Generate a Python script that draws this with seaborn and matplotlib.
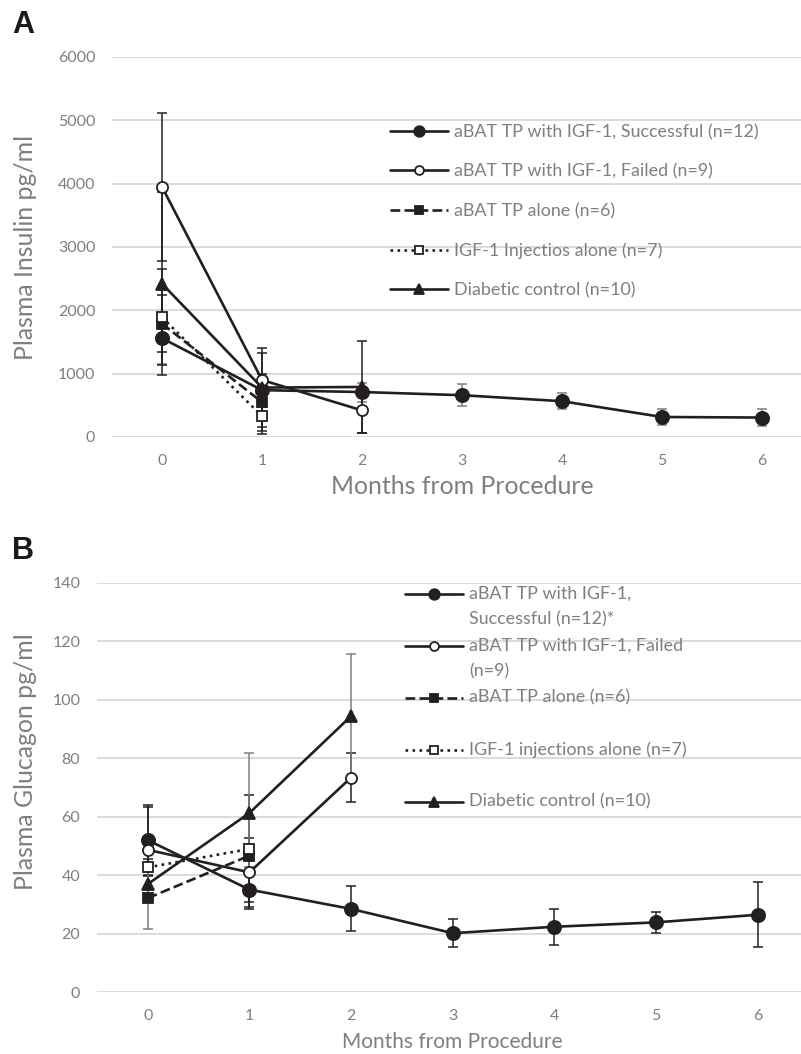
import numpy as np
import pandas as pd
import seaborn as sns
import matplotlib.pyplot as plt

months = [0, 1, 2, 3, 4, 5, 6]

# A - plasma insulin pg/ml (mean, error)
ins_succ = [1560, 740, 710, 660, 565, 316, 307]
ins_succ_err = [400, 90, 150, 170, 125, 120, 135]
ins_fail = [3950, 900, 420]
ins_fail_err = [1170, 420, 360]
ins_bat = [1790, 550]
ins_bat_err = [445, 450]
ins_igf = [1890, 330]
ins_igf_err = [760, 280]
ins_diab = [2420, 780, 790]
ins_diab_err = [1445, 620, 730]

# B - plasma glucagon pg/ml
glu_succ = [52, 35.1, 28.5, 20.2, 22.4, 23.9, 26.5]
glu_succ_err = [12, 6.6, 7.7, 4.8, 6.2, 3.6, 11.1]
glu_fail = [48.7, 41, 73.4]
glu_fail_err = [14.6, 11.8, 8.4]
glu_bat = [32.2, 46.7]
glu_bat_err = [10.6, 4]
glu_igf = [42.7, 49]
glu_igf_err = [3, 18.3]
glu_diab = [37, 61.3, 94.4]
glu_diab_err = [4, 20.5, 21.3]

labels_a = ['aBAT TP with IGF-1, Successful (n=12)',
            'aBAT TP with IGF-1, Failed (n=9)',
            'aBAT TP alone (n=6)',
            'IGF-1 Injectios alone (n=7)',
            'Diabetic control (n=10)']
labels_b = ['aBAT TP with IGF-1,\nSuccessful (n=12)*',
            'aBAT TP with IGF-1, Failed\n(n=9)',
            'aBAT TP alone (n=6)\n',
            'IGF-1 injections alone (n=7)\n',
            'Diabetic control (n=10)\n']

ink = '#231f20'
gray = '#7f7f7f'
grid_c = '#d9d9d9'

# marker, face, linestyle, size
styles = [('o', ink, '-', 9.5),
          ('o', 'white', '-', 8),
          ('s', ink, '--', 7.5),
          ('s', 'white', ':', 7.5),
          ('^', ink, '-', 8.5)]

sns.set_theme(style='white')
plt.rcParams['font.family'] = ['Lato', 'DejaVu Sans']

fig = plt.figure(figsize=(8.01, 10.54), dpi=100)
W, H = 801, 1054


def fx(px):
    return px / W


def fy(py):
    return 1 - py / H


def panel(rect, series, errcols, labels, ymax, ystep, fs_xlab, fs_ylab, ylab):
    ax = fig.add_axes(rect)
    for (y, e), (m, mfc, ls, ms), lab, ec in zip(series, styles, labels, errcols):
        x = months[:len(y)]
        ax.errorbar(x, y, yerr=e, fmt='none', ecolor=ec, elinewidth=1.1,
                    capsize=3.8, capthick=1.1, zorder=2)
        sns.lineplot(x=x, y=y, ax=ax, color=ink, marker=m, markersize=ms,
                     markerfacecolor=mfc, markeredgecolor=ink, markeredgewidth=1.3,
                     linestyle=ls, linewidth=1.9, label=lab, zorder=3, legend=False)
    ax.set_xlim(-0.5, 6.5)
    ax.set_ylim(0, ymax)
    ax.set_xticks(months)
    ax.set_yticks(np.arange(0, ymax + 1, ystep))
    ax.yaxis.grid(True, color=grid_c, lw=1.3)
    ax.xaxis.grid(False)
    ax.set_axisbelow(True)
    for s in ax.spines.values():
        s.set_visible(False)
    ax.tick_params(length=0, labelcolor=gray, labelsize=11.5)
    ax.tick_params(axis='x', pad=12)
    ax.tick_params(axis='y', pad=12)
    ax.set_xlabel('Months from Procedure', color=gray, fontsize=fs_xlab)
    ax.set_ylabel(ylab, color=gray, fontsize=fs_ylab)
    return ax


# panel A
axA = panel([fx(112), fy(437), fx(700), (437 - 57) / H],
            [(ins_succ, ins_succ_err), (ins_fail, ins_fail_err), (ins_bat, ins_bat_err),
             (ins_igf, ins_igf_err), (ins_diab, ins_diab_err)],
            [gray, ink, ink, ink, ink], labels_a, 6000, 1000, 17.9, 17.9,
            'Plasma Insulin pg/ml')
axA.xaxis.set_label_coords(0.5, -50 / 380)
axA.xaxis.label.set_va('center')
axA.yaxis.set_label_coords((26 - 112) / 700, 0.5)
axA.yaxis.label.set_va('center')

# panel B
hB = 992.3 - 582.7
wB = 711.4
axB = panel([fx(97), fy(992.3), fx(wB), hB / H],
            [(glu_succ, glu_succ_err), (glu_fail, glu_fail_err), (glu_bat, glu_bat_err),
             (glu_igf, glu_igf_err), (glu_diab, glu_diab_err)],
            [ink, ink, gray, ink, gray], labels_b, 140, 20, 15, 17.9,
            'Plasma Glucagon pg/ml')
axB.xaxis.set_label_coords(0.5, -(1042 - 992.3) / hB)
axB.xaxis.label.set_va('center')
axB.yaxis.set_label_coords((26 - 97) / wB, (992.3 - 762) / hB)
axB.yaxis.label.set_va('center')

fs_leg = 12.9
fs_px = fs_leg * 100 / 72
legA = axA.legend(loc='upper left', bbox_to_anchor=(fx(390), fy(124)),
                  bbox_transform=fig.transFigure, frameon=False, fontsize=fs_leg,
                  handlelength=58 / fs_px, handletextpad=6 / fs_px, labelspacing=1.3,
                  borderpad=0, borderaxespad=0, labelcolor=gray, markerscale=0.8)

legB = axB.legend(loc='upper left', bbox_to_anchor=(fx(405), fy(586)),
                  bbox_transform=fig.transFigure, frameon=False, fontsize=fs_leg,
                  handlelength=58 / fs_px, handletextpad=6 / fs_px, labelspacing=0.59,
                  borderpad=0, borderaxespad=0, labelcolor=gray, markerscale=0.8)
for t in legB.get_texts():
    t.set_linespacing(1.7)

# move each handle of legend B up to the first line of its label
fig.canvas.draw()
rend = fig.canvas.get_renderer()
h_line = legA.get_texts()[0].get_window_extent(rend).height
for t, h in zip(legB.get_texts(), legB.legend_handles):
    bb = t.get_window_extent(rend)
    cur = h.get_transform().transform((0, h.get_ydata()[0]))[1]
    shift = (bb.y1 - h_line / 2 - cur) * 72 / fig.dpi
    h.set_ydata(np.asarray(h.get_ydata()) + shift)

fig.text(fx(12), fy(25), 'A', fontsize=22, fontweight='bold', color='#1a1a1a',
         va='center', ha='left', family=['Liberation Sans', 'DejaVu Sans'])
fig.text(fx(12), fy(551), 'B', fontsize=22, fontweight='bold', color='#1a1a1a',
         va='center', ha='left', family=['Liberation Sans', 'DejaVu Sans'])

fig.savefig('out.png', dpi=100)
